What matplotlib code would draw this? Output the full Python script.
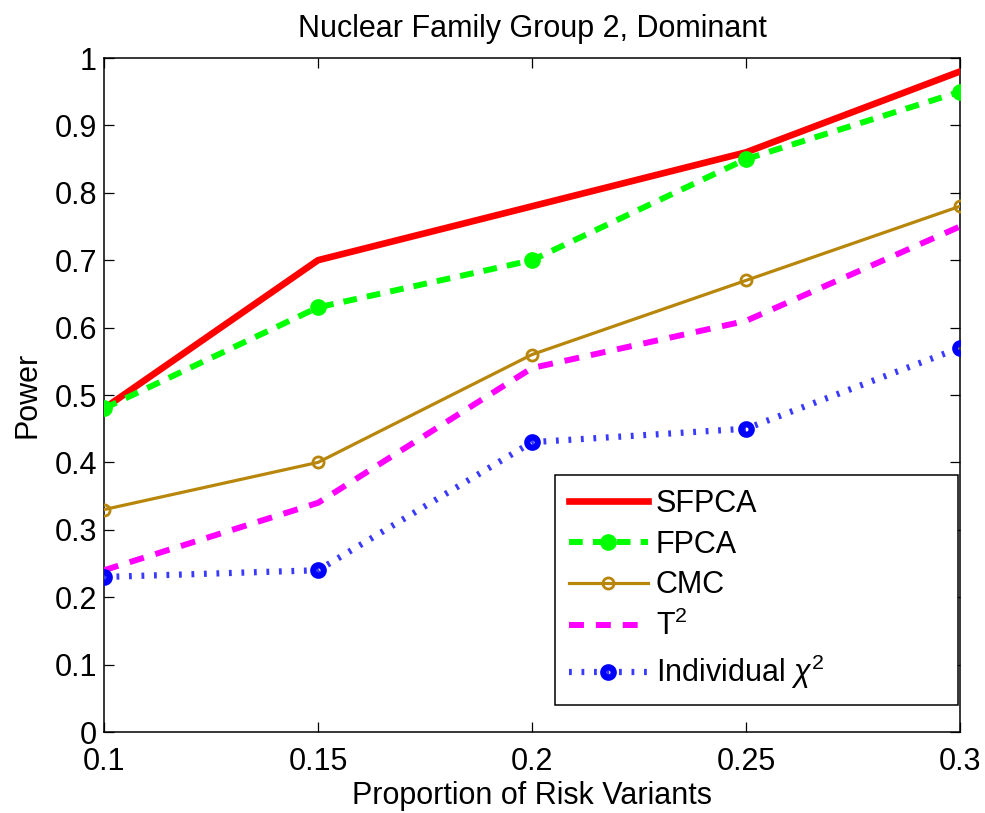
import matplotlib
matplotlib.use("Agg")
import matplotlib.pyplot as plt

plt.rcParams['font.family'] = ['Liberation Sans', 'DejaVu Sans']
plt.rcParams['mathtext.fontset'] = 'custom'
plt.rcParams['mathtext.rm'] = 'Liberation Sans'
plt.rcParams['mathtext.it'] = 'Liberation Sans:italic'

proportions = [0.1, 0.15, 0.2, 0.25, 0.3]
sfpca = [0.48, 0.70, 0.78, 0.86, 0.98]
fpca = [0.48, 0.63, 0.70, 0.85, 0.95]
cmc = [0.33, 0.40, 0.56, 0.67, 0.78]
t2 = [0.24, 0.34, 0.54, 0.61, 0.75]
indiv = [0.23, 0.24, 0.43, 0.45, 0.57]

xticks = [0.1, 0.15, 0.2, 0.25, 0.3]
xticklabels = ['0.1', '0.15', '0.2', '0.25', '0.3']
yticks = [0, 0.1, 0.2, 0.3, 0.4, 0.5, 0.6, 0.7, 0.8, 0.9, 1.0]
yticklabels = ['0', '0.1', '0.2', '0.3', '0.4', '0.5', '0.6', '0.7', '0.8', '0.9', '1']

fig = plt.figure(figsize=(9.85, 8.13), dpi=100)
ax = fig.add_axes([104/985, 1 - 732/813, 856/985, 674/813])

ax.plot(proportions, sfpca, color='#ff0000', lw=4.8, label='SFPCA', zorder=3)
ax.plot(proportions, fpca, color='#00ff00', lw=4.3, ls=(0, (2.3, 1.7)), marker='o',
        ms=11, mfc='#00ff00', mec='#00ff00', label='FPCA', zorder=4)
ax.plot(proportions, cmc, color='#b8860b', lw=2.3, marker='o', ms=8, mfc='none',
        mec='#b8860b', mew=2.0, label='CMC', zorder=3)
ax.plot(proportions, t2, color='#ff00ff', lw=4.3, ls=(0, (2.5, 2.0)), label='T$^2$', zorder=3)
ax.plot(proportions, indiv, color='#3a3aff', lw=4.5, ls=(0, (0.45, 1.55)),
        dash_capstyle='butt', marker='o', ms=7.5, mfc='none', mec='#0000ff', mew=4.5,
        label='Individual $\\chi^2$', zorder=3)

ax.set_xlim(0.1, 0.3)
ax.set_ylim(0, 1)
ax.set_xticks(xticks)
ax.set_xticklabels(xticklabels)
ax.set_yticks(yticks)
ax.set_yticklabels(yticklabels)
ax.tick_params(direction='in', top=True, right=True, labelsize=22, length=7.5, width=0.9)
ax.tick_params(axis='x', pad=11)
ax.tick_params(axis='y', pad=5)
for s in ax.spines.values():
    s.set_linewidth(1.1)

ax.set_xlabel('Proportion of Risk Variants', fontsize=22, labelpad=3)
ax.set_ylabel('Power', fontsize=22, labelpad=9)
ax.set_title('Nuclear Family Group 2, Dominant', fontsize=22, pad=15)

x0 = (555 - 104) / 856
w = (958 - 555) / 856
leg = ax.legend(loc='lower left', bbox_to_anchor=(x0, 0.04, w, 0.3), mode='expand',
                borderaxespad=0, fontsize=22, frameon=True, fancybox=False,
                edgecolor='black', framealpha=1, handlelength=2.6, labelspacing=0.35,
                borderpad=0.45, handletextpad=0.25)
leg.get_frame().set_linewidth(1.1)

fig.savefig('out.png', dpi=100)
